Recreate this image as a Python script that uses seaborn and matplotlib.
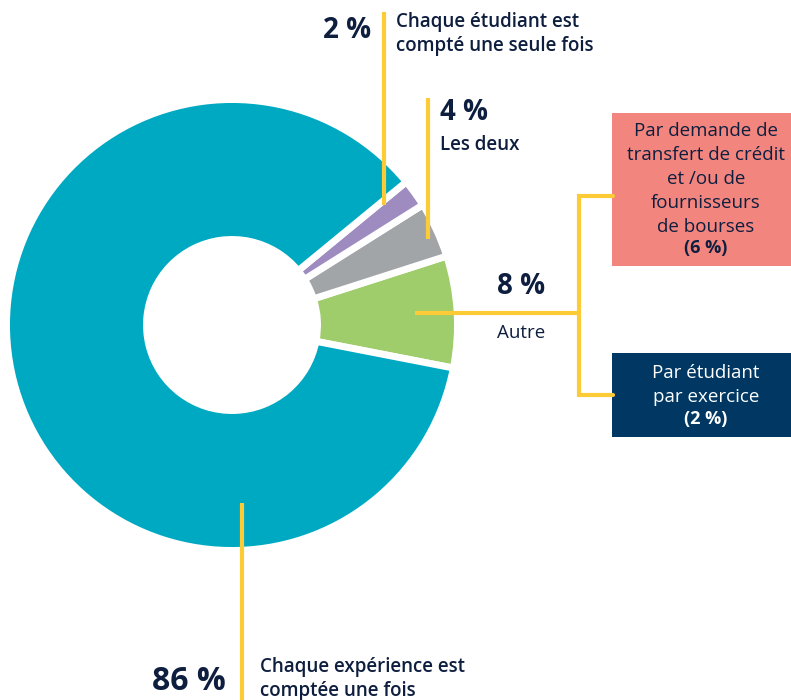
import matplotlib
matplotlib.use("Agg")
import matplotlib.pyplot as plt
import seaborn as sns

# share of each counting method (%), drawn counter-clockwise from the green slice
categories = ["Autre", "Les deux", "Chaque étudiant est compté une seule fois",
              "Chaque expérience est comptée une fois"]
values = [8, 4, 2, 86]
colors = ["#A0CD6C", "#A2A5A8", "#9E8BC0", "#00A9C2"]

# breakdown of "Autre"
sub_labels = ["Par demande de\ntransfert de crédit\net /ou de\nfournisseurs\nde bourses",
              "Par étudiant\npar exercice"]
sub_values = [6, 2]

sns.set_theme(style="white")
plt.rcParams['font.family'] = ['Open Sans', 'DejaVu Sans']

W, H = 791, 700
fig = plt.figure(figsize=(W / 100, H / 100), dpi=100)
ax = fig.add_axes([0, 0, 1, 1])

def Y(y):
    # pixel row (top = 0) -> data y
    return H - y

dark = "#0E1E3F"
yellow = "#FDCB36"

ax.pie(values, colors=colors, startangle=-11, counterclock=True,
       radius=225.5, center=(232, Y(325)),
       wedgeprops=dict(width=140, edgecolor="white", linewidth=5))
ax.set_xlim(0, W)
ax.set_ylim(0, H)
ax.set_aspect("equal")
ax.axis("off")

lw = 3
lab = dict(fontsize=13.5, fontweight="semibold", color=dark, linespacing=1.3)
num = dict(fontsize=20, fontweight="bold", color=dark)
box = dict(fontsize=13.5, ha="center", va="top", linespacing=1.42)

# 2 % label
ax.plot([384, 384], [Y(12), Y(205)], color=yellow, lw=lw, solid_capstyle="butt")
ax.text(371, Y(31), f"{values[2]} %", ha="right", va="center", **num)
ax.text(396, Y(34), "Chaque étudiant est\ncompté une seule fois", ha="left",
        va="center", **lab)

# 4 % label
ax.plot([428, 428], [Y(98), Y(239)], color=yellow, lw=lw, solid_capstyle="butt")
ax.text(440, Y(112), f"{values[1]} %", ha="left", va="center", **num)
ax.text(440, Y(145), categories[1], ha="left", va="center", **lab)

# 8 % label and bracket
ax.plot([415, 580], [Y(313), Y(313)], color=yellow, lw=lw, solid_capstyle="butt")
ax.plot([613, 579, 579, 613], [Y(196), Y(196), Y(395), Y(395)], color=yellow,
        lw=lw, solid_joinstyle="miter")
ax.text(521, Y(287), f"{values[0]} %", ha="center", va="center", **num)
ax.text(521, Y(333), categories[0], ha="center", va="center", fontsize=13.5,
        color=dark)

# sub boxes
ax.add_patch(plt.Rectangle((612, Y(266)), W - 612, 153, color="#F2857E", lw=0))
ax.text(706, Y(122), sub_labels[0], color=dark, **box)
ax.text(706, Y(248), f"({sub_values[0]} %)", color=dark, fontsize=13,
        fontweight="bold", ha="center", va="center")

ax.add_patch(plt.Rectangle((612, Y(437)), W - 612, 84, color="#003863", lw=0))
ax.text(706, Y(364), sub_labels[1], color="white", **box)
ax.text(706, Y(419), f"({sub_values[1]} %)", color="white", fontsize=13,
        fontweight="bold", ha="center", va="center")

# 86 % label
ax.plot([242, 242], [Y(503), Y(700)], color=yellow, lw=lw, solid_capstyle="butt")
ax.text(226, Y(682), f"{values[3]} %", ha="right", va="center", fontsize=23,
        fontweight="bold", color=dark)
ax.text(260, Y(679), "Chaque expérience est\ncomptée une fois", ha="left",
        va="center", **lab)

fig.savefig("out.png", dpi=100)
